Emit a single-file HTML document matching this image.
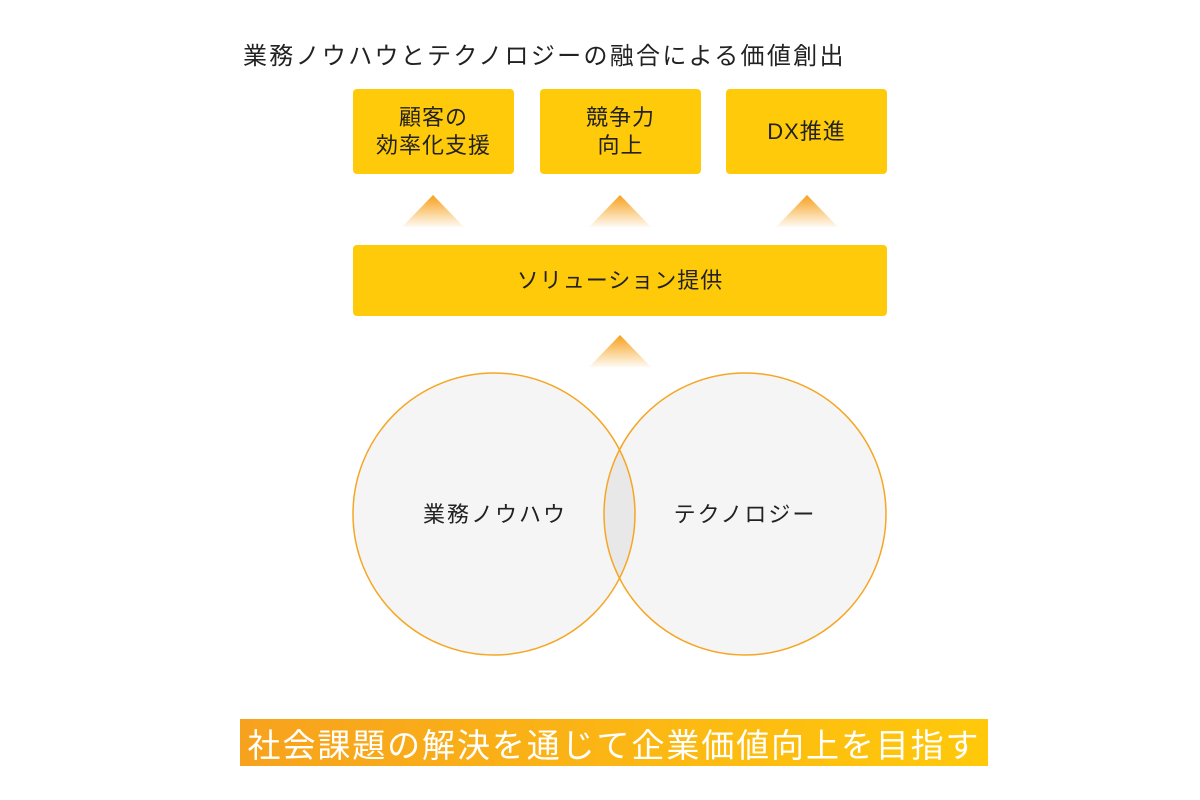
<!DOCTYPE html>
<html><head><meta charset="utf-8"><style>
body{margin:0;width:1200px;height:800px;background:#fff;position:relative;overflow:hidden;font-family:"Liberation Sans","Noto Sans CJK JP",sans-serif;color:#222}
.t{position:absolute;left:243px;top:36px;font-size:24px;letter-spacing:2.3px;white-space:nowrap}
.b{position:absolute;background:#ffca0a;border-radius:4px;display:flex;align-items:center;justify-content:center;text-align:center;font-size:22px;line-height:28px;letter-spacing:1px}
.ban{position:absolute;left:240px;top:719px;width:748px;height:47px;background:linear-gradient(90deg,#f7a21e,#ffc90a);color:#fff;font-size:33px;display:flex;align-items:center;justify-content:center;white-space:nowrap;letter-spacing:1.9px}
</style></head><body>
<div class="t">業務ノウハウとテクノロジーの融合による価値創出</div>
<div class="b" style="left:353px;top:89px;width:161px;height:85px">顧客の<br>効率化支援</div>
<div class="b" style="left:540px;top:89px;width:161px;height:85px">競争力<br>向上</div>
<div class="b" style="left:726px;top:89px;width:161px;height:85px">DX推進</div>
<div class="b" style="left:353px;top:245px;width:534px;height:71px">ソリューション提供</div>
<svg width="1200" height="800" style="position:absolute;left:0;top:0">
<defs><linearGradient id="g" x1="0" y1="0" x2="0" y2="1"><stop offset="0" stop-color="#f7a01a"/><stop offset="1" stop-color="#f7a01a" stop-opacity="0.05"/></linearGradient>
<clipPath id="c"><circle cx="494" cy="514" r="141"/></clipPath></defs>
<polygon points="433,195 402,227 464,227" fill="url(#g)"/>
<polygon points="620,195 589,227 651,227" fill="url(#g)"/>
<polygon points="807,195 776,227 838,227" fill="url(#g)"/>
<polygon points="620,335 589,367 651,367" fill="url(#g)"/>
<circle cx="494" cy="514" r="141" fill="#f5f5f5"/>
<circle cx="745" cy="514" r="141" fill="#f5f5f5"/>
<circle cx="745" cy="514" r="141" fill="#e7e8e7" clip-path="url(#c)"/>
<circle cx="494" cy="514" r="141" fill="none" stroke="#f5a623" stroke-width="1.5"/>
<circle cx="745" cy="514" r="141" fill="none" stroke="#f5a623" stroke-width="1.5"/>
<text x="495" y="522" font-size="22" letter-spacing="2" text-anchor="middle" fill="#222" font-family="Liberation Sans,Noto Sans CJK JP,sans-serif">業務ノウハウ</text>
<text x="745" y="522" font-size="22" letter-spacing="2" text-anchor="middle" fill="#222" font-family="Liberation Sans,Noto Sans CJK JP,sans-serif">テクノロジー</text>
</svg>
<div class="ban">社会課題の解決を通じて企業価値向上を目指す</div>
</body></html>
